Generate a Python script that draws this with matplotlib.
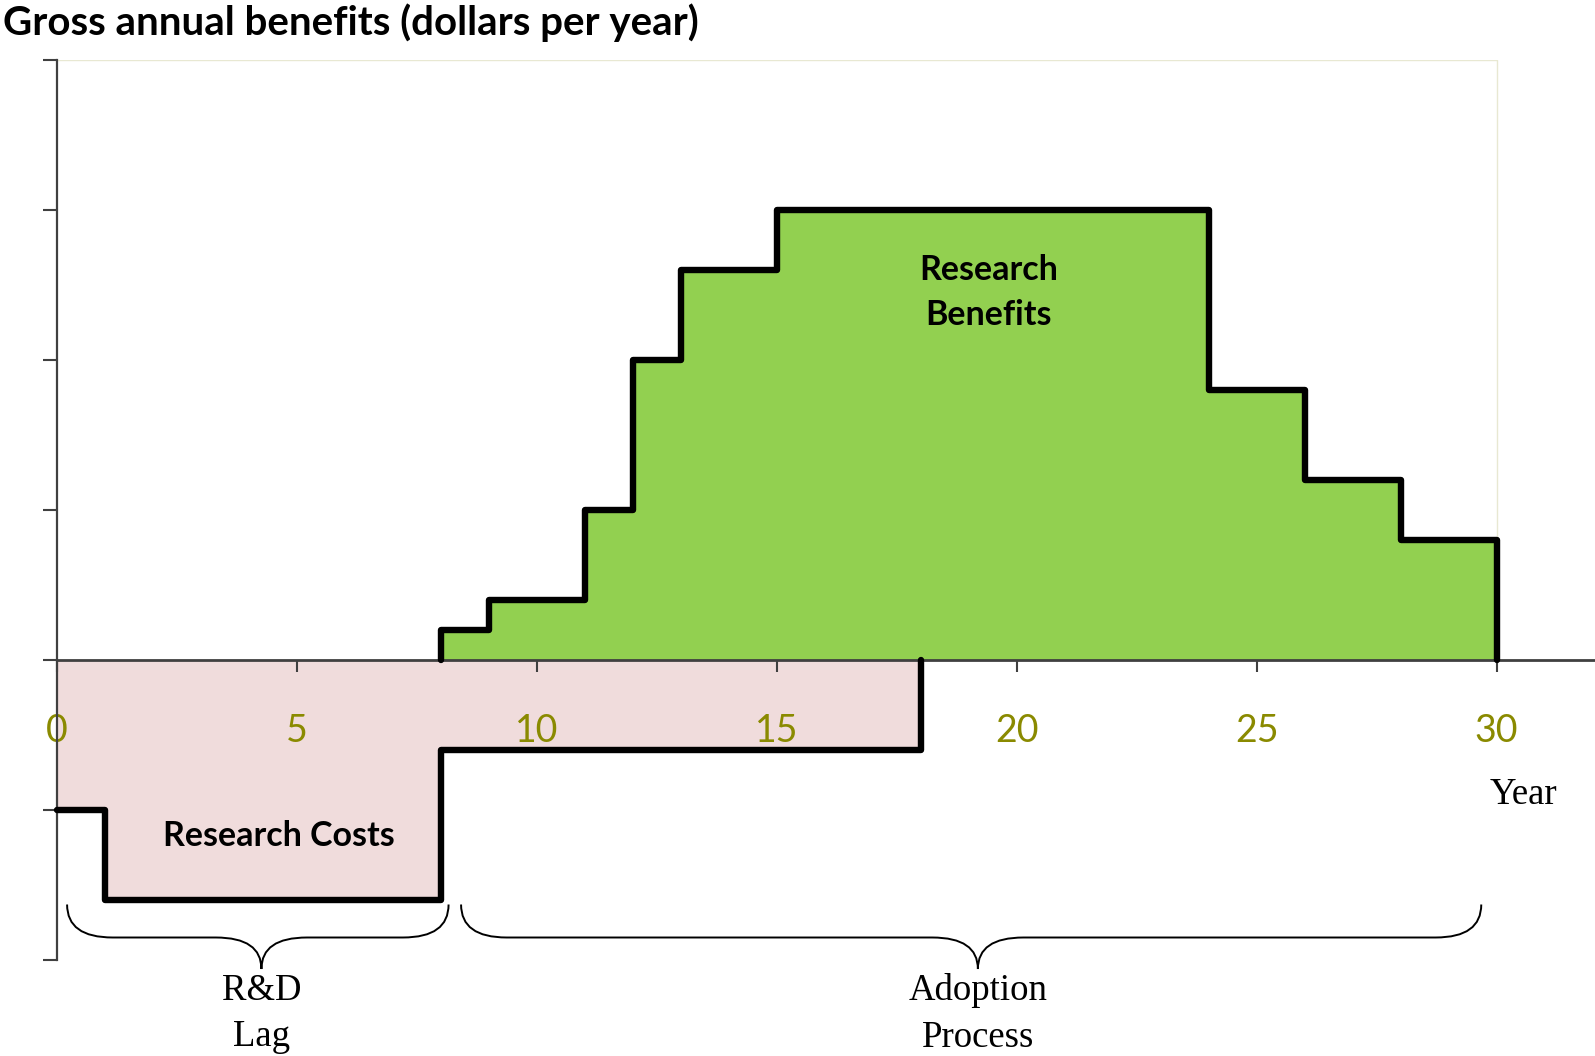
import matplotlib.pyplot as plt
import numpy as np
from matplotlib.path import Path
from matplotlib.patches import PathPatch

# step data (year edges and level of each step)
benefit_edges = [8, 9, 11, 12, 13, 15, 24, 26, 28, 30]
benefit_values = [0.2, 0.4, 1.0, 2.0, 2.6, 3.0, 1.8, 1.2, 0.8]
cost_edges = [0, 1, 8, 18]
cost_values = [-1.0, -1.6, -0.6]

year_ticks = [0, 5, 10, 15, 20, 25, 30]
level_ticks = [-2, -1, 0, 1, 2, 3, 4]

green = '#92d050'
pink = '#f0dcdc'
olive = '#8a8a00'
axis_grey = '#404040'

plt.rcParams['font.family'] = ['Lato', 'DejaVu Sans']

fig = plt.figure(figsize=(15.95, 10.56), dpi=100)
ax = fig.add_axes([57 / 1595, 96 / 1056, 1 - 57 / 1595, 900 / 1056])
ax.set_xlim(0, 32.05)
ax.set_ylim(-2, 4)

# filled areas
ax.stairs(cost_values, cost_edges, baseline=0, fill=True, color=pink, zorder=1)
ax.stairs(benefit_values, benefit_edges, baseline=0, fill=True, color=green, zorder=1)

# outlines
bx = np.repeat(benefit_edges, 2)
by = np.concatenate([[0], np.repeat(benefit_values, 2), [0]])
ax.plot(bx, by, color='black', lw=4.6, solid_joinstyle='round',
        solid_capstyle='round', zorder=4, clip_on=False)
cx = np.repeat(cost_edges, 2)[1:]
cy = np.concatenate([np.repeat(cost_values, 2), [0]])
ax.plot(cx, cy, color='black', lw=4.6, solid_joinstyle='round',
        solid_capstyle='round', zorder=4, clip_on=False)

# light plot-area frame
ax.plot([0, 30, 30], [4, 4, 0], color='#e8e8d2', lw=1, zorder=0.5)

# axes styling
for side in ['top', 'right']:
    ax.spines[side].set_visible(False)
ax.spines['left'].set_color(axis_grey)
ax.spines['left'].set_linewidth(1.6)
ax.spines['bottom'].set_position(('data', 0))
ax.spines['bottom'].set_color(axis_grey)
ax.spines['bottom'].set_linewidth(2)
ax.spines['bottom'].set_zorder(3)

ax.set_xticks(year_ticks)
ax.set_xticklabels([str(t) for t in year_ticks])
ax.set_yticks(level_ticks)
ax.set_yticklabels([])
ax.tick_params(axis='x', direction='out', length=8.5, width=1.5, color=axis_grey,
               labelcolor=olive, labelsize=27, pad=29.5)
ax.tick_params(axis='y', direction='out', length=10, width=1.5, color=axis_grey)

# labels
fig.text(0.002, 0.997, 'Gross annual benefits (dollars per year)', fontsize=29,
         fontweight='bold', ha='left', va='top')
ax.text(19.42, 2.45, 'Research\nBenefits', fontsize=24.5, fontweight='bold',
        ha='center', va='center', linespacing=1.48, zorder=5)
ax.text(4.62, -1.17, 'Research Costs', fontsize=24.5, fontweight='bold',
        ha='center', va='center', zorder=5)
ax.text(30.55, -0.9, 'Year', fontsize=26.5, family='Liberation Serif',
        ha='center', va='center')


def brace(x0, x1, tip, ytop=-1.63, ymid=-1.85, ybot=-2.06, hook=0.95):
    verts = [(x0, ytop), (x0, ymid), (x0 + hook, ymid),
             (tip - hook, ymid),
             (tip, ymid), (tip, ybot),
             (tip, ymid), (tip + hook, ymid),
             (x1 - hook, ymid),
             (x1, ymid), (x1, ytop)]
    codes = [Path.MOVETO, Path.CURVE3, Path.CURVE3,
             Path.LINETO,
             Path.CURVE3, Path.CURVE3,
             Path.CURVE3, Path.CURVE3,
             Path.LINETO,
             Path.CURVE3, Path.CURVE3]
    patch = PathPatch(Path(verts, codes), facecolor='none', edgecolor='black',
                      lw=1.4, clip_on=False)
    ax.add_patch(patch)


brace(0.21, 8.16, 4.26)
brace(8.42, 29.68, 19.19)
ax.text(4.26, -2.36, 'R&D\nLag', fontsize=26.5, family='Liberation Serif',
        ha='center', va='center', linespacing=1.45)
ax.text(19.19, -2.36, 'Adoption\nProcess', fontsize=26.5, family='Liberation Serif',
        ha='center', va='center', linespacing=1.45)

fig.savefig('out.png', dpi=100)
